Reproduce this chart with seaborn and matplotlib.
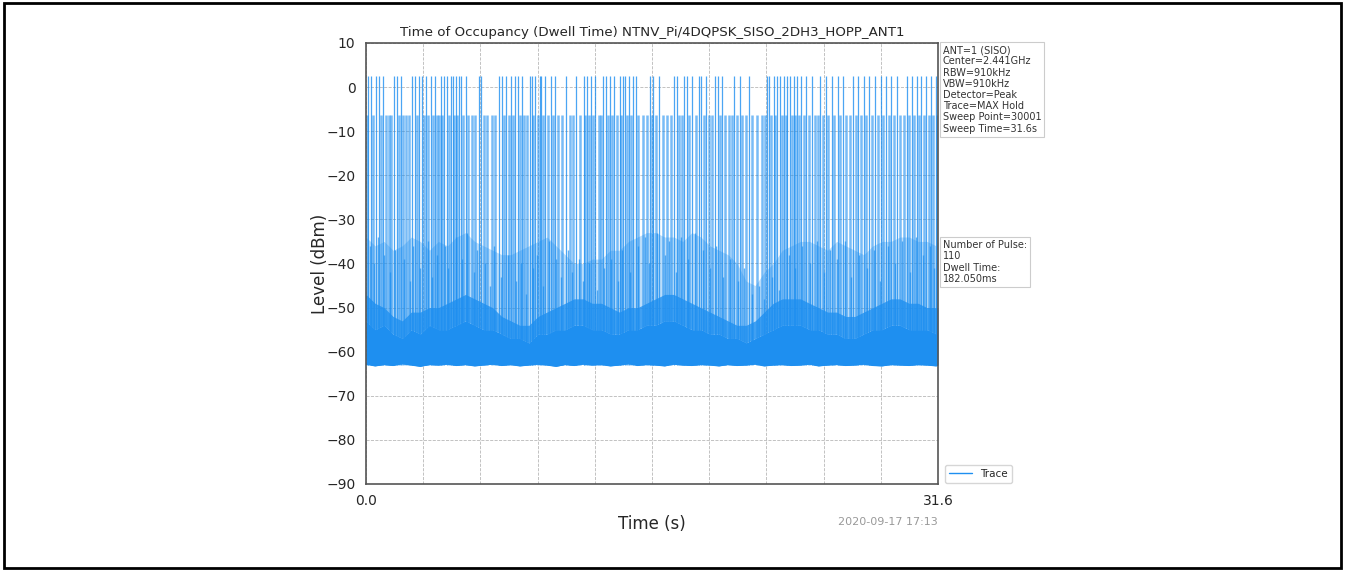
import numpy as np
import matplotlib
matplotlib.use("Agg")
import matplotlib.pyplot as plt
import seaborn as sns
from matplotlib.patches import Rectangle

# time axis (s) for the noise envelopes
env_t = [0, 0.5, 1, 1.5, 2, 2.5, 3, 3.5, 4, 4.5,
         5, 5.5, 6, 6.5, 7, 7.5, 8, 8.5, 9, 9.5,
         10, 10.5, 11, 11.5, 12, 12.5, 13, 13.5, 14, 14.5,
         15, 15.5, 16, 16.5, 17, 17.5, 18, 18.5, 19, 19.5,
         20, 20.5, 21, 21.5, 22, 22.5, 23, 23.5, 24, 24.5,
         25, 25.5, 26, 26.5, 27, 27.5, 28, 28.5, 29, 29.5,
         30, 30.5, 31, 31.5, 31.6]
# noise floor (bottom of the trace)
floor_lvl = [-62.8, -63.2, -62.9, -63.1, -62.7, -63.0, -63.3, -62.9, -63.0, -62.8,
             -63.1, -62.9, -63.2, -63.0, -62.8, -63.1, -62.9, -63.2, -63.0, -62.8,
             -63.0, -63.3, -62.9, -63.1, -62.8, -63.0, -62.9, -63.2, -63.0, -62.7,
             -63.1, -62.9, -63.0, -63.2, -62.8, -63.0, -63.1, -62.9, -63.0, -63.2,
             -62.9, -63.1, -63.0, -62.8, -63.2, -63.0, -62.9, -63.1, -63.0, -62.8,
             -63.2, -63.0, -62.9, -63.1, -63.0, -62.8, -63.1, -63.2, -62.9, -63.0,
             -63.1, -62.9, -63.0, -63.2, -63.0]
# top of the solid noise band
band_top = [-53, -55, -54, -56, -57, -55, -56, -54, -55, -55,
            -54, -53, -54, -55, -55, -56, -57, -57, -58, -56,
            -56, -55, -55, -54, -54, -55, -55, -56, -56, -55,
            -55, -54, -54, -53, -53, -54, -55, -55, -56, -56,
            -57, -57, -58, -57, -56, -55, -54, -54, -54, -55,
            -55, -56, -56, -57, -57, -56, -55, -55, -54, -54,
            -55, -55, -55, -56, -55]
# top of the dense spike region
dense_top = [-47, -49, -50, -52, -53, -51, -51, -50, -50, -49,
             -48, -47, -48, -49, -50, -52, -53, -54, -54, -52,
             -51, -50, -49, -48, -48, -49, -49, -50, -51, -50,
             -50, -49, -48, -47, -47, -48, -49, -50, -51, -52,
             -53, -54, -54, -53, -51, -49, -48, -48, -48, -49,
             -50, -51, -51, -52, -52, -51, -50, -49, -48, -48,
             -49, -49, -50, -50, -50]
# top of the sparse spikes
spike_top = [-34, -36, -35, -37, -36, -34, -35, -37, -35, -36,
             -34, -33, -35, -36, -37, -38, -38, -37, -36, -35,
             -34, -36, -38, -40, -40, -39, -39, -37, -37, -35,
             -34, -33, -33, -34, -34, -35, -33, -34, -36, -37,
             -38, -40, -44, -45, -42, -40, -37, -36, -35, -35,
             -36, -37, -35, -36, -37, -38, -36, -35, -35, -34,
             -34, -35, -35, -36, -35]

# single noise spikes above the band
spike_times = [0.20, 0.45, 0.65, 1.00, 1.30, 1.62, 2.10, 2.45, 2.62, 3.00,
               3.40, 3.65, 3.90, 4.38, 4.55, 5.00, 5.30, 5.60, 5.95, 6.15,
               6.60, 6.85, 7.05, 7.45, 7.82, 8.30, 8.55, 8.85, 9.20, 9.45,
               9.80, 10.10, 10.50, 10.75, 11.15, 11.40, 11.75, 12.00, 12.30, 12.75,
               13.15, 13.55, 13.95, 14.15, 14.60, 15.00, 15.40, 15.65, 16.10, 16.50,
               16.75, 17.10, 17.40, 17.80, 18.15, 18.60, 19.00, 19.35, 19.75, 20.10,
               20.55, 20.90, 21.30, 21.70, 22.00, 22.45, 22.80, 23.35, 23.70, 24.10,
               24.55, 24.90, 25.30, 25.65, 26.00, 26.45, 26.80, 27.25, 27.70, 28.05,
               28.40, 28.85, 29.25, 29.60, 30.05, 30.40, 30.75, 31.15, 31.40]
spike_levels = [-36, -40, -34, -38, -42, -37, -39, -44, -36, -41,
                -35, -43, -38, -36, -41, -34, -39, -33, -42, -37,
                -40, -45, -36, -43, -38, -44, -40, -47, -41, -38,
                -45, -35, -39, -43, -37, -42, -39, -44, -40, -46,
                -41, -39, -44, -37, -42, -36, -34, -40, -33, -38,
                -35, -42, -34, -39, -33, -37, -41, -36, -43, -39,
                -44, -41, -47, -45, -48, -43, -46, -38, -41, -36,
                -40, -35, -42, -37, -39, -35, -43, -38, -41, -37,
                -44, -36, -40, -35, -42, -34, -38, -36, -41]

# hopping pulses on channel (peak ~2.5 dBm)
pulse_times = [0.11, 0.28, 0.55, 0.72, 0.94, 1.55, 1.71, 1.93, 2.54, 2.71, 2.93, 3.09,
               3.31, 3.59, 3.81, 4.14, 4.31, 4.47, 4.70, 4.81, 4.97, 5.14, 5.25, 5.52,
               6.24, 6.35, 7.35, 7.51, 7.73, 8.01, 8.23, 8.40, 8.62, 9.06, 9.17, 9.34,
               9.61, 9.67, 9.89, 10.22, 10.44, 11.05, 11.60, 12.04, 12.21, 12.43, 12.65,
               13.09, 13.26, 13.48, 13.70, 14.03, 14.20, 14.31, 14.53, 14.75, 14.92,
               15.69, 15.85, 16.19, 17.01, 17.18, 17.57, 17.73, 18.01, 18.40, 18.51,
               18.78, 19.28, 19.45, 19.67, 20.33, 20.66, 21.16, 22.15, 22.26, 22.54,
               22.70, 22.87, 23.09, 23.26, 23.42, 23.64, 23.81, 24.03, 24.31, 24.64,
               25.08, 25.41, 25.74, 26.07, 26.35, 26.90, 27.18, 27.51, 27.79, 28.12,
               28.45, 28.73, 29.00, 29.33, 29.89, 30.16, 30.44, 30.66, 30.94, 31.21,
               31.49]
pulse_peak = 2.5

# adjacent-channel bursts (peak ~-6 dBm)
mid_times = [0.05, 0.38, 0.83, 1.08, 1.25, 1.40, 1.82, 2.05, 2.20, 2.38, 2.80, 3.20,
             3.45, 3.70, 3.95, 4.05, 4.22, 4.60, 4.88, 5.05, 5.35, 5.65, 5.85, 6.05,
             6.50, 6.70, 6.95, 7.15, 7.62, 7.88, 8.12, 8.50, 8.75, 8.92, 9.25, 9.50,
             9.78, 10.05, 10.35, 10.60, 10.85, 11.25, 11.45, 11.80, 12.10, 12.32, 12.55,
             12.85, 13.00, 13.38, 13.60, 13.85, 14.10, 14.42, 14.65, 15.05, 15.30, 15.50,
             15.78, 16.00, 16.40, 16.65, 16.85, 17.30, 17.45, 17.85, 18.25, 18.65, 18.95,
             19.12, 19.55, 19.85, 20.05, 20.20, 20.48, 20.80, 21.00, 21.35, 21.60, 21.85,
             22.05, 22.38, 22.62, 22.98, 23.18, 23.52, 23.72, 23.92, 24.18, 24.45, 24.80,
             24.95, 25.25, 25.55, 25.88, 26.20, 26.50, 26.75, 27.05, 27.35, 27.65, 27.95,
             28.30, 28.58, 28.88, 29.15, 29.50, 29.70, 30.02, 30.30, 30.55, 30.80, 31.08,
             31.35, 31.55]
mid_peak = -6.3

sweep_time = 31.6
yticks = list(range(-90, 11, 10))

info_text = ("ANT=1 (SISO)\nCenter=2.441GHz\nRBW=910kHz\nVBW=910kHz\n"
             "Detector=Peak\nTrace=MAX Hold\nSweep Point=30001\nSweep Time=31.6s")
pulse_text = "Number of Pulse:\n110\nDwell Time:\n182.050ms"
title = "Time of Occupancy (Dwell Time) NTNV_Pi/4DQPSK_SISO_2DH3_HOPP_ANT1"

color = '#1e8ff0'

sns.set_style("white")
plt.rcParams['font.family'] = ['DejaVu Sans']

fig = plt.figure(figsize=(13.45, 5.71), dpi=100)
ax = fig.add_axes([0.2721, 0.1524, 0.4253, 0.7723])
ax.set_axisbelow(True)

# noise layers
ax.fill_between(env_t, floor_lvl, band_top, color=color, lw=0)
ax.fill_between(env_t, band_top, dense_top, color=color, alpha=0.85, lw=0)
ax.fill_between(env_t, dense_top, spike_top, color=color, alpha=0.3, lw=0)
ax.vlines(spike_times, -60, spike_levels, color=color, lw=1.0, alpha=0.7)

# pulses
ax.vlines(mid_times, -63, mid_peak, color=color, lw=1.8, alpha=0.6)
ax.vlines(pulse_times, -63, pulse_peak, color=color, lw=0.9, alpha=0.8)

sns.lineplot(x=env_t, y=floor_lvl, ax=ax, color=color, lw=1, label='Trace')

ax.set_xlim(0, sweep_time)
ax.set_ylim(-90, 10)
ax.set_yticks(yticks)
xt = [sweep_time * i / 10 for i in range(11)]
ax.set_xticks(xt)
ax.set_xticklabels(['0.0'] + [''] * 9 + ['31.6'])
ax.tick_params(axis='both', labelsize=10, length=4, direction='out', color='#333333')
ax.grid(True, ls='--', color='#b8b8b8', lw=0.6)
for s in ax.spines.values():
    s.set_color('#555555')
    s.set_linewidth(1.2)

ax.set_title(title, fontsize=9.6, pad=5)
ax.set_ylabel('Level (dBm)', fontsize=12, labelpad=-2)
ax.set_xlabel('Time (s)', fontsize=12, labelpad=5)

box = dict(boxstyle='square,pad=0.3', fc='white', ec='#cccccc', lw=0.8)
ax.text(1.008, 0.995, info_text, transform=ax.transAxes, fontsize=7, va='top',
        ha='left', color='#333333', bbox=box, linespacing=1.15)
ax.text(1.008, 0.553, pulse_text, transform=ax.transAxes, fontsize=7, va='top',
        ha='left', color='#333333', bbox=box, linespacing=1.15)

ax.legend(loc='lower left', bbox_to_anchor=(1.003, -0.01), fontsize=7.5,
          frameon=True, edgecolor='#cccccc', fancybox=True, handlelength=2.2)

fig.text(0.6974, 0.086, '2020-09-17 17:13', ha='right', va='center',
         fontsize=8, color='#999999')

fig.patches.append(Rectangle((4 / 1345, 3 / 571), 1337 / 1345, 565 / 571,
                             transform=fig.transFigure, fill=False, ec='black',
                             lw=2, zorder=10))

fig.savefig('out.png', dpi=100)
